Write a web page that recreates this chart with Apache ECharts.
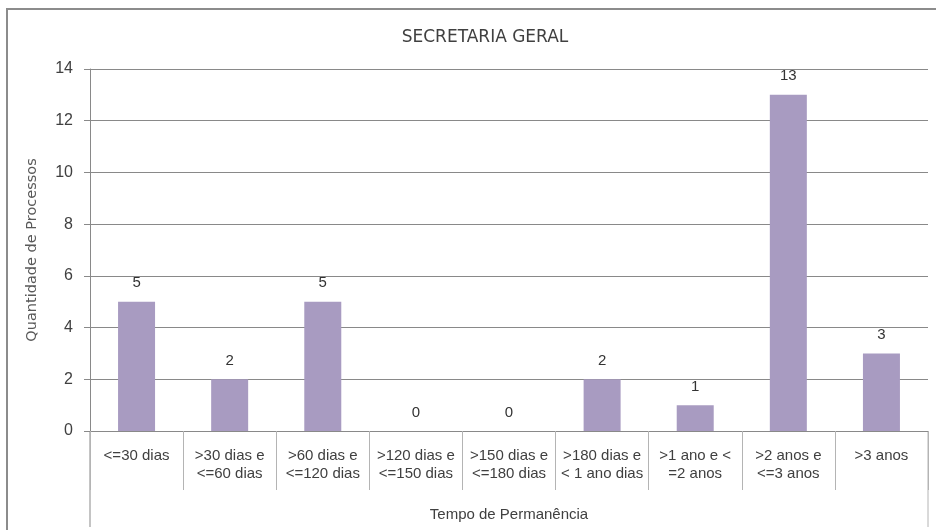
<!DOCTYPE html>
<html>
<head>
<meta charset="utf-8">
<script src="https://cdn.jsdelivr.net/npm/echarts@6/dist/echarts.min.js"></script>
<style>
  html, body { margin: 0; padding: 0; background: #fff; }
  #chart { width: 936px; height: 530px; }
</style>
</head>
<body>
<div id="chart"></div>
<script>
const categories = [
  '<=30 dias',
  '>30 dias e\n<=60 dias',
  '>60 dias e\n<=120 dias',
  '>120 dias e\n<=150 dias',
  '>150 dias e\n<=180 dias',
  '>180 dias e\n< 1 ano dias',
  '>1 ano e <\n=2 anos',
  '>2 anos e\n<=3 anos',
  '>3 anos'
]
const processos = [5, 2, 5, 0, 0, 2, 1, 13, 3]
const yTicks = [0, 2, 4, 6, 8, 10, 12, 14]

const gridLeft = 90
const gridRight = 928
const gridTop = 69
const gridBottom = 431
const lineGray = '#898989'

const chart = echarts.init(document.getElementById('chart'))

chart.setOption({
  animation: false,
  backgroundColor: '#fff',
  title: {
    text: 'SECRETARIA GERAL',
    left: 480,
    top: 24,
    textAlign: 'center',
    textStyle: {
      fontFamily: 'DejaVu Sans',
      fontWeight: 'normal',
      fontSize: 17,
      color: '#404040',
    },
  },
  grid: {
    left: gridLeft,
    right: 936 - gridRight,
    top: gridTop,
    bottom: 530 - gridBottom,
    containLabel: false,
  },
  xAxis: {
    type: 'category',
    data: categories,
    name: 'Tempo de Permanência',
    nameLocation: 'middle',
    nameGap: 76,
    nameTextStyle: {
      fontFamily: 'Liberation Sans',
      fontSize: 15,
      color: '#404040',
    },
    axisLine: { lineStyle: { color: lineGray } },
    axisTick: {
      show: true,
      interval: 0,
      length: 59,
      lineStyle: { color: '#b4b4b4' },
    },
    axisLabel: {
      interval: 0,
      margin: 16,
      fontFamily: 'Liberation Sans',
      fontSize: 15,
      lineHeight: 18,
      color: '#404040',
    },
  },
  yAxis: {
    type: 'value',
    min: yTicks[0],
    max: yTicks[yTicks.length - 1],
    interval: 2,
    name: 'Quantidade de Processos',
    nameLocation: 'middle',
    nameGap: 50,
    nameTextStyle: {
      fontFamily: 'DejaVu Sans',
      fontSize: 14.5,
      color: '#595959',
    },
    axisLine: { show: true, lineStyle: { color: lineGray } },
    axisTick: { show: true, length: 6, lineStyle: { color: lineGray } },
    splitLine: { lineStyle: { color: lineGray } },
    axisLabel: {
      margin: 17,
      fontFamily: 'Liberation Sans',
      fontSize: 16,
      color: '#404040',
    },
  },
  series: [
    {
      type: 'bar',
      data: processos,
      barWidth: 37,
      itemStyle: { color: '#a89bc1' },
      label: {
        show: true,
        position: 'top',
        distance: 11,
        fontFamily: 'Liberation Sans',
        fontSize: 15,
        color: '#333',
      },
    },
  ],
  graphic: [
    {
      type: 'rect',
      shape: { x: 7, y: 9, width: 1000, height: 600 },
      style: { fill: 'none', stroke: '#8c8c8c', lineWidth: 2 },
      silent: true,
    },
    {
      type: 'line',
      shape: { x1: gridLeft, y1: gridBottom, x2: gridLeft, y2: 527 },
      style: { stroke: lineGray, lineWidth: 1 },
      silent: true,
    },
    {
      type: 'line',
      shape: { x1: gridRight, y1: gridBottom, x2: gridRight, y2: 527 },
      style: { stroke: '#b4b4b4', lineWidth: 1 },
      silent: true,
    },
  ],
})
</script>
</body>
</html>
